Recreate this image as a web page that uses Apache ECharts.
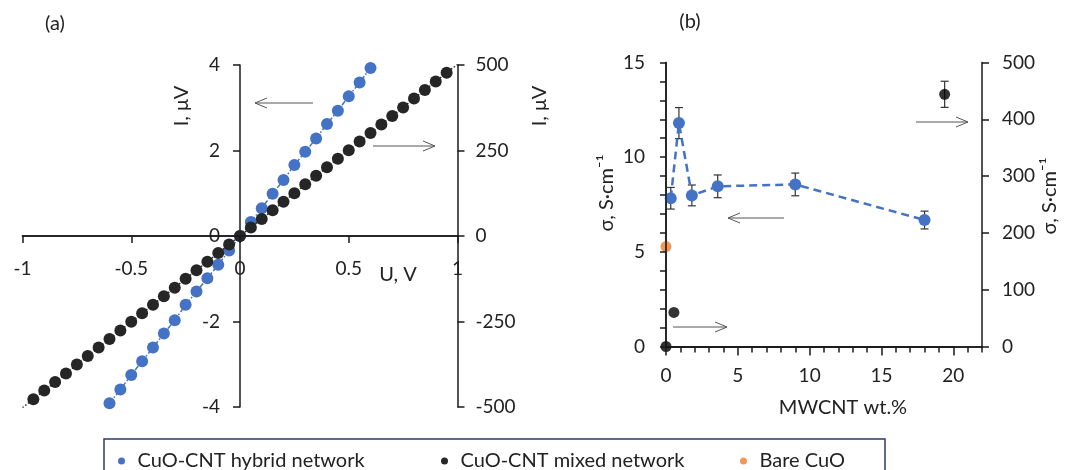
<!DOCTYPE html>
<html>
<head>
<meta charset="utf-8">
<script src="https://cdn.jsdelivr.net/npm/echarts@6/dist/echarts.min.js"></script>
<style>
html,body{margin:0;padding:0;background:#fff;}
#wrap{position:relative;width:1070px;height:470px;}
#chart,#ticks{position:absolute;left:0;top:0;width:1070px;height:470px;}
#ticks{pointer-events:none;}
</style>
</head>
<body>
<div id="wrap"><div id="chart"></div><div id="ticks"></div></div>
<script>
// ---------- Panel (a) data ----------
const hybridU = [-0.6,-0.55,-0.5,-0.45,-0.4,-0.35,-0.3,-0.25,-0.2,-0.15,-0.1,-0.05,0,0.05,0.1,0.15,0.2,0.25,0.3,0.35,0.4,0.45,0.5,0.55,0.6];
const hybridI = [-3.91,-3.59,-3.25,-2.93,-2.61,-2.28,-1.97,-1.61,-1.30,-0.99,-0.67,-0.34,0,0.33,0.65,0.99,1.31,1.66,1.97,2.28,2.62,2.93,3.27,3.59,3.93];
const mixedU = [-1,-0.95,-0.9,-0.85,-0.8,-0.75,-0.7,-0.65,-0.6,-0.55,-0.5,-0.45,-0.4,-0.35,-0.3,-0.25,-0.2,-0.15,-0.1,-0.05,0,0.05,0.1,0.15,0.2,0.25,0.3,0.35,0.4,0.45,0.5,0.55,0.6,0.65,0.7,0.75,0.8,0.85,0.9,0.95,1];
const mixedI = [-502,-477,-452,-427,-402,-376,-351,-326,-301,-276,-251,-226,-201,-176,-151,-125,-100,-75,-50,-25,0,25,50,75,100,125,151,176,201,226,251,276,301,326,351,376,402,427,452,477,502];

// ---------- Panel (b) data ----------
const hybridWt = [0.33,0.9,1.8,3.6,9,18];
const hybridSigma = [7.83,11.8,7.98,8.46,8.56,6.68];
const hybridErr = [0.57,0.82,0.55,0.6,0.6,0.47];
const mixedWt = [0,0.55,19.4];
const mixedSigma = [0,60,444];
const mixedErr = [0,0,23];
const bareWt = [0];
const bareSigma = [5.28];

const NAME_H = 'CuO-CNT hybrid network';
const NAME_M = 'CuO-CNT mixed network';
const NAME_B = 'Bare CuO';

const BLUE = '#4472C4', BLACK_A = '#262626', BLACK = '#000000', ORANGE = '#ED7D31';
const TXT = '#222222', AXC = '#1a1a1a';
const FONT = 'Lato';
const FS = 19;

// layout shared by the chart and the tick overlay
const GRID_A = { left: 22.5, top: 65, width: 435, height: 342, containLabel: false, outerBoundsMode: 'none' };
const GRID_B = { left: 666, top: 62.5, width: 316, height: 284, containLabel: false, outerBoundsMode: 'none' };
const GRID_B20 = { left: 666, top: 62.5, width: 316 * 20 / 22, height: 284, containLabel: false, outerBoundsMode: 'none' };

const zip = (a, b) => a.map((v, i) => [v, b[i]]);

function errData(xs, ys, es) {
  const out = [];
  xs.forEach((x, i) => { if (es[i] > 0) out.push([x, ys[i] - es[i], ys[i] + es[i]]); });
  return out;
}
function errRender(params, api) {
  const x = api.value(0), lo = api.value(1), hi = api.value(2);
  const p1 = api.coord([x, lo]), p2 = api.coord([x, hi]);
  const w = 4;
  const st = { stroke: '#333', lineWidth: 1.2 };
  return { type: 'group', children: [
    { type: 'line', shape: { x1: p1[0], y1: p1[1], x2: p2[0], y2: p2[1] }, style: st },
    { type: 'line', shape: { x1: p1[0] - w, y1: p1[1], x2: p1[0] + w, y2: p1[1] }, style: st },
    { type: 'line', shape: { x1: p2[0] - w, y1: p2[1], x2: p2[0] + w, y2: p2[1] }, style: st }
  ]};
}

function arrow(x1, y, x2) {
  const d = x1 > x2 ? 1 : -1;
  const st = { stroke: '#555', lineWidth: 1, fill: null };
  return { type: 'group', silent: true, children: [
    { type: 'line', shape: { x1: x1, y1: y, x2: x2, y2: y }, style: st },
    { type: 'polyline', shape: { points: [[x2 + d * 12, y - 5], [x2, y], [x2 + d * 12, y + 5]] }, style: st }
  ]};
}
function vtext(x, y, t) {
  return { type: 'text', x: x, y: y, rotation: Math.PI / 2, silent: true,
    style: { text: t, fill: TXT, fontFamily: FONT, fontSize: FS + 1, align: 'center', verticalAlign: 'middle' } };
}
function htext(x, y, t) {
  return { type: 'text', x: x, y: y, silent: true,
    style: { text: t, fill: TXT, fontFamily: FONT, fontSize: FS + 1, align: 'center', verticalAlign: 'middle' } };
}

const axLine = { show: true, onZero: false, lineStyle: { color: AXC, width: 1.5 } };
const tick = (len) => ({ show: true, inside: false, length: len, lineStyle: { color: AXC, width: 1.5 } });
const noTick = { show: false };
const lbl = (m, extra) => Object.assign({ show: true, hideOverlap: false, color: TXT, fontFamily: FONT, fontSize: FS, margin: m }, extra || {});

const legendBase = { icon: 'circle', itemWidth: 22, itemHeight: 7, top: 446, selectedMode: false,
  textStyle: { color: TXT, fontFamily: FONT, fontSize: FS + 1 } };

const option = {
  animation: false,
  grid: [GRID_A, GRID_B],
  xAxis: [
    { gridIndex: 0, type: 'value', min: -1, max: 1, interval: 0.5, position: 'bottom', offset: -171,
      axisLine: axLine, axisTick: noTick, splitLine: { show: false },
      axisLabel: lbl(23) },
    { gridIndex: 1, type: 'value', min: 0, max: 22, interval: 1, position: 'bottom',
      axisLine: axLine, axisTick: noTick, splitLine: { show: false },
      axisLabel: lbl(20, { formatter: v => (v % 5 === 0 && v <= 20) ? String(v) : '' }) }
  ],
  yAxis: [
    { gridIndex: 0, type: 'value', position: 'left', offset: -217.5, min: -4, max: 4, interval: 2,
      axisLine: axLine, axisTick: tick(7), splitLine: { show: false },
      axisLabel: lbl(20) },
    { gridIndex: 0, type: 'value', position: 'right', min: -500, max: 500, interval: 250,
      axisLine: axLine, axisTick: tick(7), splitLine: { show: false },
      axisLabel: lbl(18) },
    { gridIndex: 1, type: 'value', position: 'left', min: 0, max: 15, interval: 1,
      axisLine: axLine, axisTick: noTick, splitLine: { show: false },
      axisLabel: lbl(21, { formatter: v => v % 5 === 0 ? String(v) : '' }) },
    { gridIndex: 1, type: 'value', position: 'right', min: 0, max: 500, interval: 100,
      axisLine: axLine, axisTick: tick(7), splitLine: { show: false },
      axisLabel: lbl(20) }
  ],
  legend: [
    Object.assign({ data: [NAME_H], left: 113 }, legendBase),
    Object.assign({ data: [NAME_M], left: 436 }, legendBase),
    Object.assign({ data: [NAME_B], left: 735 }, legendBase)
  ],
  series: [
    // panel (a)
    { name: NAME_H, type: 'line', xAxisIndex: 0, yAxisIndex: 0, data: zip(hybridU, hybridI),
      symbol: 'circle', symbolSize: 12, itemStyle: { color: BLUE },
      lineStyle: { color: BLUE, width: 1.5, type: [5, 2, 1.5, 2] }, z: 2 },
    { name: NAME_M, type: 'line', xAxisIndex: 0, yAxisIndex: 1, data: zip(mixedU, mixedI),
      symbol: 'circle', symbolSize: v => Math.abs(v[0]) >= 1 ? 0 : 12, itemStyle: { color: BLACK_A },
      lineStyle: { color: BLACK_A, width: 1.5, type: [1.5, 2] }, z: 3 },
    // panel (b)
    { type: 'custom', xAxisIndex: 1, yAxisIndex: 2, data: errData(hybridWt, hybridSigma, hybridErr),
      renderItem: errRender, encode: { x: 0, y: [1, 2] }, silent: true, z: 2 },
    { type: 'custom', xAxisIndex: 1, yAxisIndex: 3, data: errData(mixedWt, mixedSigma, mixedErr),
      renderItem: errRender, encode: { x: 0, y: [1, 2] }, silent: true, z: 2 },
    { name: NAME_H, type: 'line', xAxisIndex: 1, yAxisIndex: 2, data: zip(hybridWt, hybridSigma),
      symbol: 'circle', symbolSize: 12, itemStyle: { color: BLUE },
      lineStyle: { color: BLUE, width: 2.5, type: [8, 5] }, z: 3 },
    { name: NAME_B, type: 'scatter', xAxisIndex: 1, yAxisIndex: 2, data: zip(bareWt, bareSigma),
      symbol: 'circle', symbolSize: 11, itemStyle: { color: ORANGE }, clip: false, z: 4 },
    { name: NAME_M, type: 'scatter', xAxisIndex: 1, yAxisIndex: 3, data: zip(mixedWt, mixedSigma),
      symbol: 'circle', symbolSize: 11, itemStyle: { color: BLACK }, clip: false, z: 4 }
  ],
  graphic: [
    { type: 'rect', silent: true, z: -1, shape: { x: 104, y: 439, width: 781, height: 50 },
      style: { fill: 'transparent', stroke: '#2f3a66', lineWidth: 1.5 } },
    htext(55, 24, '(a)'),
    htext(690, 22, '(b)'),
    vtext(182, 106, 'I, μV'),
    vtext(540, 106, 'I, μV'),
    htext(398, 275, 'U, V'),
    vtext(607, 193, 'σ, S·cm⁻¹'),
    vtext(1050, 196, 'σ, S·cm⁻¹'),
    htext(843, 408, 'MWCNT wt.%'),
    arrow(313, 103, 255),
    arrow(373, 146, 435),
    arrow(784, 218, 728),
    arrow(673, 327, 727),
    arrow(916, 122, 968)
  ]
};

const chart = echarts.init(document.getElementById('chart'), null, { renderer: 'canvas' });
chart.setOption(option);

// ---------- tick-mark layer: same grids and scales, only the axis ticks ----------
const hid = { show: false };
const tickOption = {
  animation: false,
  grid: [GRID_A, GRID_B, GRID_B20],
  xAxis: [
    { gridIndex: 0, type: 'value', min: -1, max: 1, interval: 0.5, position: 'bottom', offset: -171,
      axisLine: axLine, axisTick: tick(7), axisLabel: hid, splitLine: hid },
    { gridIndex: 1, type: 'value', min: 0, max: 22, interval: 1, position: 'bottom',
      axisLine: axLine, axisTick: tick(6), axisLabel: hid, splitLine: hid },
    { gridIndex: 2, type: 'value', min: 0, max: 20, interval: 5, position: 'bottom',
      axisLine: axLine, axisTick: tick(9), axisLabel: hid, splitLine: hid }
  ],
  yAxis: [
    { gridIndex: 0, type: 'value', show: false, min: -4, max: 4 },
    { gridIndex: 1, type: 'value', position: 'left', min: 0, max: 15, interval: 1,
      axisLine: axLine, axisTick: tick(6), axisLabel: hid, splitLine: hid },
    { gridIndex: 2, type: 'value', show: false, min: 0, max: 15 }
  ],
  series: []
};
const tickChart = echarts.init(document.getElementById('ticks'), null, { renderer: 'canvas' });
tickChart.setOption(tickOption);
</script>
</body>
</html>
